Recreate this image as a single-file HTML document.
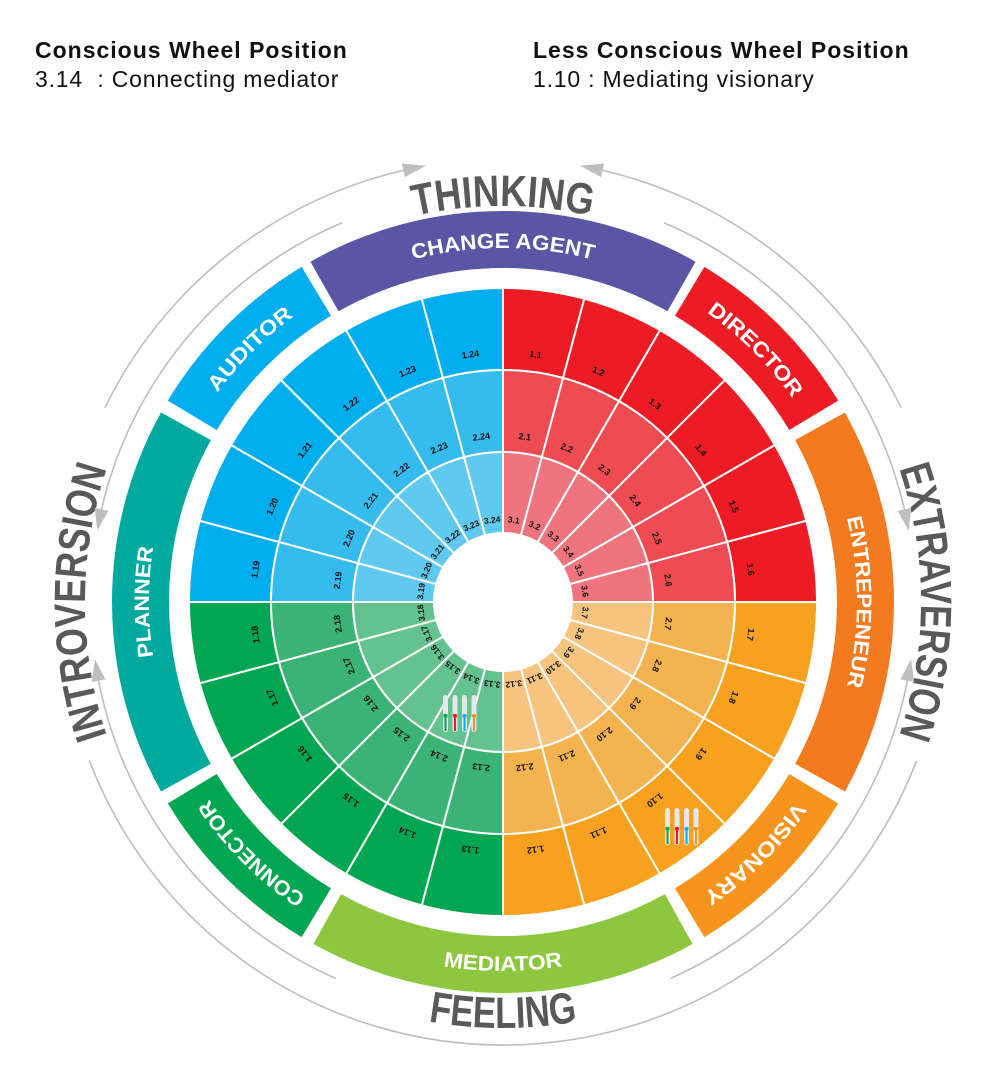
<!DOCTYPE html>
<html><head><meta charset="utf-8">
<style>
html,body{margin:0;padding:0;background:#fff;}
body{width:994px;height:1068px;overflow:hidden;position:relative;font-family:"Liberation Sans",sans-serif;}
.h{position:absolute;font-size:23px;line-height:29px;color:#111;letter-spacing:0.8px;}
.h b{display:block;font-weight:bold;letter-spacing:1px;}
svg{position:absolute;left:0;top:0;}
</style></head><body>
<div class="h" style="left:35px;top:36px;"><b>Conscious Wheel Position</b>3.14&nbsp; : Connecting mediator</div>
<div class="h" style="left:533px;top:36px;"><b>Less Conscious Wheel Position</b>1.10 : Mediating visionary</div>
<svg id="s" width="994" height="1068" viewBox="0 0 994 1068" xmlns="http://www.w3.org/2000/svg"></svg>
<script>
var cx=503,cy=602,S=document.getElementById('s'),html='';
function P(r,a){a=a*Math.PI/180;return [(cx+r*Math.sin(a)).toFixed(2),(cy-r*Math.cos(a)).toFixed(2)];}
function sector(r0,r1,a1,a2){var A=P(r1,a1),B=P(r1,a2),C=P(r0,a2),D=P(r0,a1),l=(a2-a1)>180?1:0;
return 'M'+A+' A'+r1+' '+r1+' 0 '+l+' 1 '+B+' L'+C+' A'+r0+' '+r0+' 0 '+l+' 0 '+D+'Z';}
function arc(r,a1,a2){var A=P(r,a1),B=P(r,a2),sw=a2>a1?1:0,l=Math.abs(a2-a1)>180?1:0;return 'M'+A+' A'+r+' '+r+' 0 '+l+' '+sw+' '+B;}
var cols=[["#ED1C24","#EE4B53","#EF747D"],["#F7A11E","#F5B34F","#F6C47F"],["#00A651","#3AB374","#63C28F"],["#00AEEF","#36BBEE","#5FC9F0"]];
var radii=[[232,314],[150,232],[69,150]],lr=[249,166,82];
var L1=["1.1","1.2","1.3","1.4","1.5","1.6","1.7","1.8","1.9","1.10","1.11","1.12","1.13","1.14","1.15","1.16","1.17","1.18","1.19","1.20","1.21","1.22","1.23","1.24"];
var L2=["2.1","2.2","2.3","2.4","2.5","2.6","2.7","2.8","2.9","2.10","2.11","2.12","2.13","2.14","2.15","2.16","2.17","2.18","2.19","2.20","2.21","2.22","2.23","2.24"];
var L3=["3.1","3.2","3.3","3.4","3.5","3.6","3.7","3.8","3.9","3.10","3.11","3.12","3.13","3.14","3.15","3.16","3.17","3.18","3.19","3.20","3.21","3.22","3.23","3.24"];
var LL=[L1,L2,L3];
for(var i=0;i<24;i++){var q=Math.floor(i/6);for(var k=0;k<3;k++){
html+='<path d="'+sector(radii[k][0],radii[k][1],i*15,i*15+15)+'" fill="'+cols[q][k]+'" stroke="#fff" stroke-width="2"/>';}}
for(var i=0;i<24;i++){var m=i*15+7.5;for(var k=0;k<3;k++){var p=P(lr[k],m);
html+='<text x="'+p[0]+'" y="'+p[1]+'" transform="rotate('+m+' '+p[0]+' '+p[1]+')" font-size="'+(k==2?8.5:9)+'" font-weight="bold" fill="#111" text-anchor="middle" dominant-baseline="middle">'+LL[k][i]+'</text>';}}
var bands=[[-29.5,29.5,"#5B55A5","CHANGE AGENT",182,1],[31,59,"#ED1C24","DIRECTOR",122,1],[61,119,"#F47A20","ENTREPENEUR",170,1],[121,149,"#F7941D","VISIONARY",132,1],[151,209,"#8DC63F","MEDIATOR",120,0],[211,239,"#00A651","CONNECTOR",138,1],[241,299,"#00A99D","PLANNER",110,1],[301,329,"#00AEEF","AUDITOR",108,1]];
var defs='';
bands.forEach(function(b,j){html+='<path d="'+sector(334,391,b[0],b[1])+'" fill="'+b[2]+'"/>';
var d=b[5]?arc(354,b[0]-20,b[1]+20):arc(369,b[1]+20,b[0]-20);defs+='<path id="bp'+j+'" d="'+d+'"/>';
html+='<text font-size="21" font-weight="bold" fill="#fff"><textPath href="#bp'+j+'" startOffset="50%" text-anchor="middle" textLength="'+b[4]+'" lengthAdjust="spacingAndGlyphs">'+b[3]+'</textPath></text>';});
var poles=[[0,"THINKING",178,1,396],[90,"EXTRAVERSION",272,1,418],[180,"FEELING",150,0,426],[270,"INTROVERSION",272,1,418]];
poles.forEach(function(p,j){var d=p[3]?arc(p[4],p[0]-60,p[0]+60):arc(p[4],p[0]+60,p[0]-60);defs+='<path id="pp'+j+'" d="'+d+'"/>';
html+='<text font-size="44" font-weight="bold" fill="#58595B"><textPath href="#pp'+j+'" startOffset="50%" text-anchor="middle" textLength="'+p[2]+'" lengthAdjust="spacingAndGlyphs">'+p[1]+'</textPath></text>';});
var g='#BCBEC0';
function arrowArc(r,a1,a2,head){
var dir=a2>a1?1:-1,end=head?a2-dir*2.2:a2;
html+='<path d="'+arc(r,a1,end)+'" fill="none" stroke="'+g+'" stroke-width="1.6"/>';
if(head){var t=P(r,a2),b1=P(r-7,a2-dir*3),b2=P(r+7,a2-dir*3);html+='<polygon points="'+t+' '+b1+' '+b2+'" fill="'+g+'"/>';}}
arrowArc(443,296,350,1);arrowArc(443,64,10,1);
arrowArc(412,337,280,1);arrowArc(412,23,80,1);
arrowArc(412,156,98,1);arrowArc(412,204,262,1);
arrowArc(443,111,249,0);
function tubes(x0,y0){var c=["#00A651","#ED1C24","#00AEEF","#F7941D"];for(var t=0;t<4;t++){var x=x0+t*9.5;
html+='<rect x="'+x+'" y="'+y0+'" width="5" height="37" rx="2.5" fill="#E6E7E8"/>';
html+='<rect x="'+(x+1.5)+'" y="'+(y0+21)+'" width="2" height="15" fill="'+c[t]+'"/>';
html+='<rect x="'+(x+0.5)+'" y="'+(y0+19)+'" width="4" height="3.5" rx="1" fill="'+c[t]+'"/>';}}
tubes(443,695);tubes(665,808);
S.innerHTML='<defs>'+defs+'</defs>'+html;
</script>
</body></html>
